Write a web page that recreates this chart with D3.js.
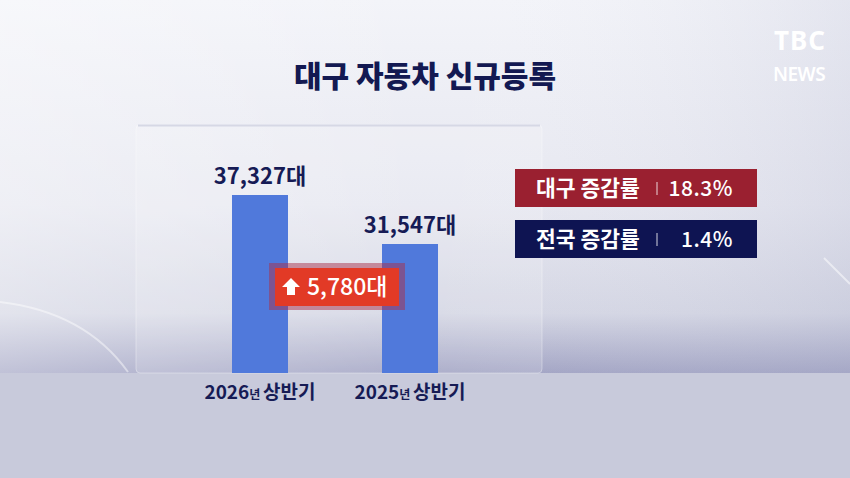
<!DOCTYPE html>
<html><head><meta charset="utf-8">
<script src="https://cdn.jsdelivr.net/npm/d3@7"></script>
<style>html,body{margin:0;padding:0;background:#e8e9f1;}svg{display:block;}</style>
</head><body>
<svg id="c" width="850" height="478"></svg>
<script>
const title = "대구 자동차 신규등록";
const categories = ["2026", "2025"];
const categorySuffix = "상반기";
const values = [37327, 31547];
const diffValue = 5780;
const rateLabels = ["대구 증감률", "전국 증감률"];
const rateValues = ["18.3%", "1.4%"];

const F = "'Noto Sans CJK KR','Noto Sans',sans-serif";
const svg = d3.select("#c");
const W = 850, H = 478, floorY = 373;
const defs = svg.append("defs");

const bg = defs.append("linearGradient").attr("id","bg").attr("x1",0).attr("y1",0).attr("x2",0).attr("y2",1);
bg.append("stop").attr("offset","0").attr("stop-color","#f3f4f9");
bg.append("stop").attr("offset","0.55").attr("stop-color","#e6e7f0");
bg.append("stop").attr("offset","0.84").attr("stop-color","#d3d5e3");
bg.append("stop").attr("offset","1").attr("stop-color","#9fa1c2");
const bgH = defs.append("linearGradient").attr("id","bgh").attr("x1",0).attr("y1",0).attr("x2",1).attr("y2",0);
bgH.append("stop").attr("offset","0").attr("stop-color","#ffffff").attr("stop-opacity",0.35);
bgH.append("stop").attr("offset","0.5").attr("stop-color","#ffffff").attr("stop-opacity",0);
bgH.append("stop").attr("offset","1").attr("stop-color","#b8bbd2").attr("stop-opacity",0.25);

svg.append("rect").attr("width",W).attr("height",floorY).attr("fill","url(#bg)");
svg.append("rect").attr("width",W).attr("height",floorY).attr("fill","url(#bgh)");
// light streaks
svg.append("path").attr("d","M0,302 Q85,312 128,372").attr("fill","none").attr("stroke","#ffffff").attr("stroke-opacity",0.45).attr("stroke-width",2);
svg.append("path").attr("d","M824,258 L850,284").attr("fill","none").attr("stroke","#ffffff").attr("stroke-opacity",0.5).attr("stroke-width",2);
// floor
svg.append("rect").attr("y",floorY).attr("width",W).attr("height",H-floorY).attr("fill","#c8cadb");

// panel
svg.append("rect").attr("x",136).attr("y",125).attr("width",406).attr("height",floorY-125).attr("rx",4)
  .attr("fill","#ffffff").attr("fill-opacity",0.15).attr("stroke","#ffffff").attr("stroke-opacity",0.35);
svg.append("line").attr("x1",138).attr("x2",540).attr("y1",125.5).attr("y2",125.5).attr("stroke","#d6d8e5").attr("stroke-width",2);

// title
svg.append("text").attr("x",425).attr("y",87).attr("text-anchor","middle")
  .attr("font-family",F).attr("font-weight",900).attr("font-size",30).attr("fill","#131952").text(title);

// logo
svg.append("text").attr("x",800).attr("y",50).attr("text-anchor","middle").attr("font-family","'Noto Sans',sans-serif")
  .attr("font-weight",700).attr("font-size",26).attr("fill","#ffffff").attr("letter-spacing",1).text("TBC");
svg.append("text").attr("x",799).attr("y",81).attr("text-anchor","middle").attr("font-family","'Noto Sans',sans-serif")
  .attr("font-weight",600).attr("font-size",19).attr("fill","#ffffff").attr("letter-spacing",-0.5).text("NEWS");

// scales
const x = d3.scaleBand().domain(categories).range([185,485]).paddingInner(0.6267).paddingOuter(0.3133);
const y = d3.scaleLinear().domain([16330, 37327]).range([floorY, 195]);

svg.append("g").selectAll("rect").data(values).join("rect")
  .attr("x",(d,i)=>x(categories[i])).attr("width",x.bandwidth())
  .attr("y",d=>y(d)).attr("height",d=>floorY-y(d)).attr("fill","#5079db");

svg.append("g").selectAll("text").data(values).join("text")
  .attr("x",(d,i)=>x(categories[i])+x.bandwidth()/2).attr("y",d=>y(d)-11)
  .attr("text-anchor","middle").attr("font-family",F).attr("font-weight",700).attr("font-size",22)
  .attr("fill","#161b55").text(d=>d3.format(",")(d)+"대");

// category labels
const cl = svg.append("g").selectAll("text").data(categories).join("text")
  .attr("x",d=>x(d)+x.bandwidth()/2).attr("y",399).attr("text-anchor","middle")
  .attr("font-family",F).attr("font-weight",700).attr("fill","#161b55");
cl.append("tspan").attr("font-size",19).text(d=>d);
cl.append("tspan").attr("font-size",12).text("년 ");
cl.append("tspan").attr("font-size",19).text(categorySuffix);

// diff badge
const bx = 269, by = 263;
svg.append("rect").attr("x",bx).attr("y",by).attr("width",136).attr("height",47).attr("fill","#a8304a").attr("fill-opacity",0.5);
svg.append("rect").attr("x",bx+6).attr("y",by+5).attr("width",124).attr("height",38).attr("fill","#e23a26");
svg.append("path").attr("d",`M${bx+22},${by+15} L${bx+31},${by+24} L${bx+26},${by+24} L${bx+26},${by+32} L${bx+18},${by+32} L${bx+18},${by+24} L${bx+13},${by+24} Z`)
  .attr("fill","#ffffff");
svg.append("text").attr("x",bx+38).attr("y",by+32).attr("font-family",F).attr("font-weight",500).attr("font-size",23)
  .attr("fill","#ffffff").text(d3.format(",")(diffValue)+"대");

// rate boxes
const boxColors = ["#9a2030","#0e1452"];
const rg = svg.append("g").selectAll("g").data(rateLabels).join("g")
  .attr("transform",(d,i)=>`translate(515,${169+i*51})`);
rg.append("rect").attr("width",242).attr("height",38).attr("fill",(d,i)=>boxColors[i]);
rg.append("text").attr("x",21).attr("y",27).attr("font-family",F).attr("font-weight",700).attr("font-size",21.5)
  .attr("fill","#ffffff").text(d=>d);
rg.append("line").attr("x1",142).attr("x2",142).attr("y1",13).attr("y2",26).attr("stroke","#ffffff").attr("stroke-opacity",0.55).attr("stroke-width",1.5);
rg.append("text").attr("x",218).attr("y",27).attr("text-anchor","end").attr("font-family",F).attr("font-weight",500).attr("font-size",21)
  .attr("fill","#ffffff").attr("letter-spacing",0.5).text((d,i)=>rateValues[i]);
</script>
</body></html>
